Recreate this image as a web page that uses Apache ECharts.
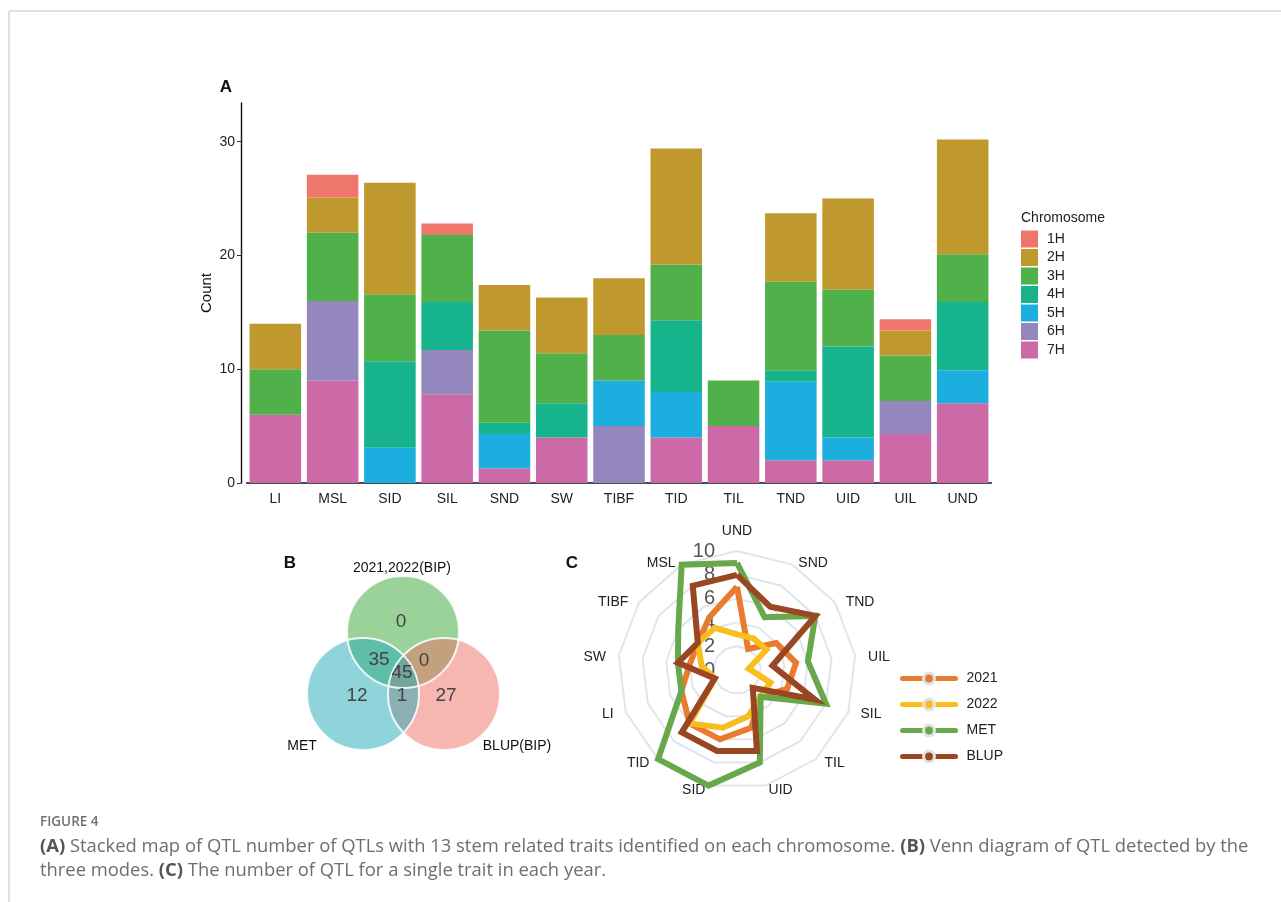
<!DOCTYPE html>
<html><head><meta charset="utf-8">
<script src="https://cdn.jsdelivr.net/npm/echarts@6/dist/echarts.min.js"></script>
<style>html,body{margin:0;padding:0;background:#fff}#c{width:1281px;height:902px}</style>
</head><body><div id="c"></div>
<script>
// ---------- Panel A data ----------
const traits = ['LI','MSL','SID','SIL','SND','SW','TIBF','TID','TIL','TND','UID','UIL','UND'];
const chromosomes = ['1H','2H','3H','4H','5H','6H','7H'];
const count7H = [6, 9, 0, 7.8, 1.3, 4, 0, 4, 5, 2, 2, 4.3, 7];
const count6H = [0, 7, 0, 3.9, 0, 0, 5, 0, 0, 0, 0, 2.9, 0];
const count5H = [0, 0, 3.1, 0, 3, 0, 4, 4, 0, 6.9, 2, 0, 2.9];
const count4H = [0, 0, 7.6, 4.2, 1, 3, 0, 6.3, 0, 1, 8, 0, 6];
const count3H = [4, 6, 5.9, 5.9, 8.1, 4.4, 4, 4.9, 4, 7.8, 5, 4, 4.2];
const count2H = [4, 3.1, 9.8, 0, 4, 4.9, 5, 10.2, 0, 6, 8, 2.2, 10.1];
const count1H = [0, 2, 0, 1, 0, 0, 0, 0, 0, 0, 0, 1, 0];
const yMax = 33.4;
const yInterval = 10;

// ---------- Panel B data ----------
const vennSets = ['2021,2022(BIP)', 'MET', 'BLUP(BIP)'];
// only-top, top∩MET, top∩BLUP, all three, only-MET, MET∩BLUP, only-BLUP
const vennCounts = [0, 35, 0, 45, 12, 1, 27];

// ---------- Panel C data (clockwise from top) ----------
const radarTraits = ['UND','SND','TND','UIL','SIL','TIL','UID','SID','TID','LI','SW','TIBF','MSL'];
const radarGroups = ['2021','2022','MET','BLUP'];
const qtl2021 = [7, 2, 4, 5, 4.5, 3, 5, 6, 6, 5, 4, 4, 5];
const qtl2022 = [3, 3, 3, 1, 3, 3, 4, 5, 6, 2, 3, 4, 4];
const qtlMET  = [9, 5, 8, 6, 8, 3, 8, 10, 10, 5, 5, 6, 10];
const qtlBLUP = [8, 6, 8, 3, 7, 2, 7, 7, 7, 2, 5, 4, 8];
const radarMax = 10;

// ---------- styles ----------
const chromColors = {'1H':'#EF766B','2H':'#BF982E','3H':'#50B049','4H':'#16B38C','5H':'#1CAEDF','6H':'#9487BD','7H':'#CC6AA8'};
const chromData = {'1H':count1H,'2H':count2H,'3H':count3H,'4H':count4H,'5H':count5H,'6H':count6H,'7H':count7H};
const groupColors = {'2021':'#E97B30','2022':'#F8BE1E','MET':'#69A84A','BLUP':'#9A4622'};
const groupData = {'2021':qtl2021,'2022':qtl2022,'MET':qtlMET,'BLUP':qtlBLUP};
const FONT = '"Liberation Sans", Arial, sans-serif';
// vertical nudge of each radar name (px, + = down), style only
const nameShift = {SND:10, MSL:10, TND:7, TIBF:7, UIL:3, SW:3, SIL:-3, LI:-3, TIL:-6, TID:-6, UID:-8, SID:-8};
const nameRich = {};
Object.values(nameShift).forEach(s => {
  const key = s > 0 ? 'd' + s : 'u' + (-s);
  nameRich[key] = {color:'#222', fontSize:14, fontFamily:FONT, padding: s > 0 ? [2*s,0,0,0] : [0,0,-2*s,0]};
});

// ECharts lays radar indicators counter-clockwise; reorder so the picture runs clockwise
const cwOrder = radarTraits.map((_, i) => (radarTraits.length - i) % radarTraits.length);

const chart = echarts.init(document.getElementById('c'), null, {renderer:'canvas'});

const barSeries = chromosomes.slice().reverse().map(c => ({
  type:'bar', name:c, stack:'qtl', data:chromData[c],
  barCategoryGap:'10%',
  itemStyle:{color:chromColors[c]},
  emphasis:{disabled:true}
}));

const legendLines = radarGroups.map(g => ({
  type:'line', name:g, data:[], xAxisIndex:0, yAxisIndex:0,
  symbol:'circle', color:groupColors[g],
  lineStyle:{width:5, color:groupColors[g]},
  itemStyle:{color:groupColors[g], borderColor:'#e3e3e3', borderWidth:3}
}));

const radarSeries = {
  type:'radar', radarIndex:0, symbol:'none',
  data: radarGroups.map(g => ({
    name:g, value:cwOrder.map(i => groupData[g][i]),
    lineStyle:{width:6, color:groupColors[g], join:'miter'},
    itemStyle:{color:groupColors[g]}
  }))
};

function indicatorFor(ti, i) {
  const ind = {name:radarTraits[ti], min:0, max:radarMax};
  if (i === 0) ind.axisLabel = {show:true, fontSize:20, color:'#555', margin:22, fontFamily:FONT};
  return ind;
}

// Venn layout (pixels)
const vennCircles = [
  {cx:403, cy:632, color:'rgba(56,166,54,0.5)'},
  {cx:444, cy:694, color:'rgba(235,111,97,0.5)'},
  {cx:363, cy:694, color:'rgba(34,170,183,0.5)'}
];
const vennR = 56;
const vennLabelPos = [[401,622],[379,660],[424,661],[402,673],[357,696],[402,696],[446,696]];
const vennSetPos = [[402,568,'center'],[302,746,'center'],[517,746,'center']];

const graphics = [];
// frame
graphics.push({type:'line', shape:{x1:9, y1:11, x2:1281, y2:11}, style:{stroke:'#d6d6d6', lineWidth:1.5}, silent:true});
graphics.push({type:'line', shape:{x1:9, y1:11, x2:9, y2:902}, style:{stroke:'#d6d6d6', lineWidth:1.5}, silent:true});
// panel letters
[['A',226,87],['B',290,563],['C',572,563]].forEach(p => graphics.push({type:'text', x:p[1], y:p[2], style:{text:p[0], font:'bold 17px '+FONT, fill:'#111', align:'center', verticalAlign:'middle'}}));
// chromosome legend title
graphics.push({type:'text', x:1021, y:218, style:{text:'Chromosome', font:'14px '+FONT, fill:'#222', align:'left', verticalAlign:'middle'}});
// venn fills
vennCircles.forEach(c => graphics.push({type:'circle', shape:{cx:c.cx, cy:c.cy, r:vennR}, style:{fill:c.color}, silent:true}));
vennCircles.forEach(c => graphics.push({type:'circle', shape:{cx:c.cx, cy:c.cy, r:vennR}, style:{fill:null, stroke:'rgba(255,255,255,0.85)', lineWidth:2}, silent:true}));
vennCounts.forEach((v,i) => graphics.push({type:'text', x:vennLabelPos[i][0], y:vennLabelPos[i][1], style:{text:String(v), font:'19px '+FONT, fill:'#444', align:'center', verticalAlign:'middle'}}));
vennSets.forEach((s,i) => graphics.push({type:'text', x:vennSetPos[i][0], y:vennSetPos[i][1], style:{text:s, font:'14px '+FONT, fill:'#111', align:vennSetPos[i][2], verticalAlign:'middle'}}));
// caption
graphics.push({type:'text', x:40, y:822, style:{text:'FIGURE 4', font:'600 13.5px "Open Sans", sans-serif', fill:'#707070', align:'left', verticalAlign:'middle'}});
graphics.push({type:'text', x:40, y:835, style:{
  text:'{b|(A)} Stacked map of QTL number of QTLs with 13 stem related traits identified on each chromosome. {b|(B)} Venn diagram of QTL detected by the\nthree modes. {b|(C)} The number of QTL for a single trait in each year.',
  font:'18.4px "Open Sans", sans-serif', fill:'#6e6e6e', lineHeight:24, align:'left', verticalAlign:'top',
  rich:{b:{font:'bold 18.4px "Open Sans", sans-serif', fill:'#555', lineHeight:24}}
}});

const option = {
  animation:false,
  backgroundColor:'#fff',
  textStyle:{fontFamily:FONT},
  grid:{left:246.7, right:289.7, top:103, bottom:419, containLabel:false},
  xAxis:{
    type:'category', data:traits,
    axisLine:{lineStyle:{color:'#111', width:1.6}},
    axisTick:{alignWithLabel:true, length:4, lineStyle:{color:'#333'}},
    axisLabel:{color:'#222', fontSize:14, margin:9, fontFamily:FONT}
  },
  yAxis:{
    type:'value', min:0, max:yMax, interval:yInterval, offset:5.7,
    name:'Count', nameLocation:'middle', nameGap:27, nameRotate:90, nameMoveOverlap:false,
    nameTextStyle:{color:'#111', fontSize:15, fontFamily:FONT},
    axisLine:{show:true, lineStyle:{color:'#111', width:1.4}},
    axisTick:{show:true, length:4, lineStyle:{color:'#333'}},
    axisLabel:{color:'#222', fontSize:14, margin:6, showMaxLabel:false, fontFamily:FONT},
    splitLine:{show:false}
  },
  legend:[{
    data:chromosomes, orient:'vertical', left:1021, top:230.5, padding:0,
    icon:'rect', itemWidth:17, itemHeight:17, itemGap:1.5,
    textStyle:{fontSize:14, color:'#222', fontFamily:FONT, padding:[0,0,0,4]},
    selectedMode:false
  },{
    data:radarGroups, orient:'vertical', left:900, top:671.5, padding:0,
    itemWidth:53, itemHeight:13.5, itemGap:12,
    lineStyle:{width:5, cap:'round'},
    itemStyle:{borderColor:'#e3e3e3', borderWidth:3},
    textStyle:{fontSize:14, color:'#222', fontFamily:FONT, padding:[0,0,0,6]},
    selectedMode:false
  }],
  radar:{
    center:[737, 670], radius:119, startAngle:90, shape:'polygon', splitNumber:5,
    nameGap:13,
    axisName:{
      color:'#222', fontSize:14, fontFamily:FONT,
      formatter: function (name) {
        const s = nameShift[name];
        if (!s) return name;
        return '{' + (s > 0 ? 'd' + s : 'u' + (-s)) + '|' + name + '}';
      },
      rich: nameRich
    },
    axisLine:{show:false}, axisTick:{show:false},
    axisLabel:{show:false},
    splitArea:{show:false},
    splitLine:{lineStyle:{color:'#dfe5ef', width:2}},
    indicator: cwOrder.map(indicatorFor)
  },
  series: barSeries.concat(legendLines).concat([radarSeries]),
  graphic: graphics
};
chart.setOption(option);
</script></body></html>
